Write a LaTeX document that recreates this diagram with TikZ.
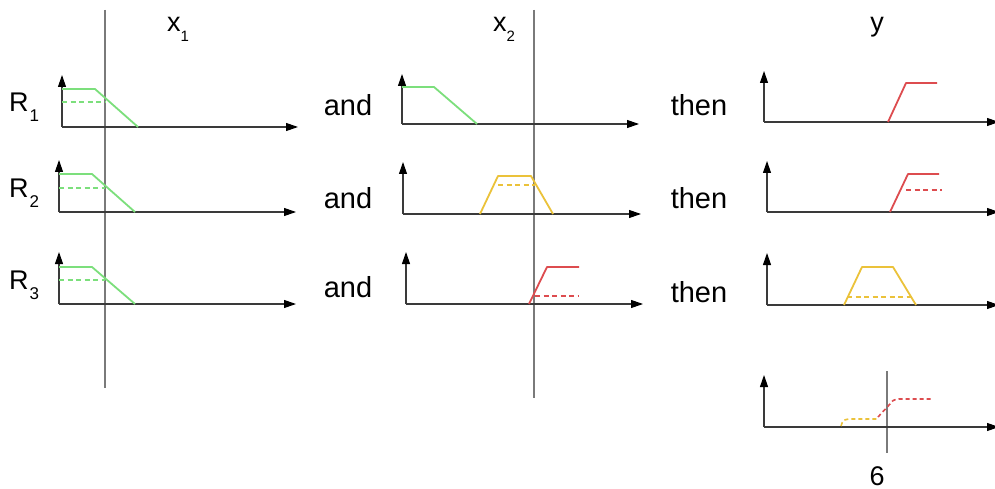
\documentclass[tikz,border=0pt]{standalone}
\usepackage{fontspec}
\setmainfont{Liberation Sans}
\usetikzlibrary{arrows.meta}
\definecolor{mfgreen}{HTML}{7CDF7C}
\definecolor{mfyellow}{HTML}{EBC23A}
\definecolor{mfred}{HTML}{DD4C4F}
\definecolor{axisgray}{HTML}{3A3A3A}
\definecolor{guidegray}{HTML}{7A7A7A}
\tikzset{
  axisline/.style={draw=axisgray, line width=1.1pt, -{Triangle[length=12pt,width=8pt,color=black]}},
  guideline/.style={draw=guidegray, line width=1.1pt},
  mfline/.style={line width=1.8pt, line join=round},
  mfdash/.style={line width=1.6pt, dash pattern=on 5pt off 3.5pt},
  bigword/.style={font=\fontsize{29}{31}\selectfont, inner sep=0pt},
  varlabel/.style={font=\fontsize{27}{29}\selectfont, inner sep=0pt},
}
\newcommand{\subx}[1]{\raisebox{-9.5pt}{\fontsize{15}{15}\selectfont #1}}
\newcommand{\subr}[1]{\hspace{1pt}\raisebox{-10pt}{\fontsize{17}{17}\selectfont #1}}
\begin{document}
\begin{tikzpicture}[x=1pt,y=-1pt]
\useasboundingbox[fill=white] (0,0) rectangle (995,489);

% vertical guide lines
\coordinate (g1t) at (105,10); \coordinate (g1b) at (105,388);
\coordinate (g2t) at (534,10); \coordinate (g2b) at (534,398);
\coordinate (g3t) at (887,371); \coordinate (g3b) at (887,453);
\draw[guideline] (g1t) -- (g1b);
\draw[guideline] (g2t) -- (g2b);
\draw[guideline] (g3t) -- (g3b);

% column labels
\node[varlabel, anchor=base west] (lx1) at (167,32) {x\subx{1}};
\node[varlabel, anchor=base west] (lx2) at (493,32) {x\subx{2}};
\node[varlabel, anchor=base] (ly) at (877,32) {y};
\node[font=\fontsize{27}{29}\selectfont, inner sep=0pt, anchor=base] (l6) at (877,485) {6};

% row labels
\node[varlabel, anchor=base west] (r1) at (9,112) {R\subr{1}};
\node[varlabel, anchor=base west] (r2) at (9,197) {R\subr{2}};
\node[varlabel, anchor=base west] (r3) at (9,289) {R\subr{3}};

\node[bigword, anchor=base] (and1) at (348,116) {and};
\node[bigword, anchor=base] (and2) at (348,208) {and};
\node[bigword, anchor=base] (and3) at (348,297) {and};
\node[bigword, anchor=base] (then1) at (699,116) {then};
\node[bigword, anchor=base] (then2) at (699,208) {then};
\node[bigword, anchor=base] (then3) at (699,302) {then};

% ---------- x1 column ----------
% R1
\coordinate (a1o) at (62,127);
\draw[axisline] (a1o) -- (62,75);
\draw[axisline] (a1o) -- (298,127);
\draw[mfline, mfgreen] (62,89) -- (95,89) -- (138,127);
\draw[mfdash, mfgreen] (62,102) -- (105,102);
% R2
\coordinate (a2o) at (59,212);
\draw[axisline] (a2o) -- (59,160);
\draw[axisline] (a2o) -- (296,212);
\draw[mfline, mfgreen] (59,174) -- (92,174) -- (135,212);
\draw[mfdash, mfgreen] (59,188) -- (105,188);
% R3
\coordinate (a3o) at (59,304);
\draw[axisline] (a3o) -- (59,252);
\draw[axisline] (a3o) -- (296,304);
\draw[mfline, mfgreen] (59,267) -- (92,267) -- (135,304);
\draw[mfdash, mfgreen] (59,280) -- (105,280);

% ---------- x2 column ----------
% R1
\coordinate (b1o) at (402,124);
\draw[axisline] (b1o) -- (402,74);
\draw[axisline] (b1o) -- (639,124);
\draw[mfline, mfgreen] (402,87) -- (434,87) -- (477,124);
% R2
\coordinate (b2o) at (403,214);
\draw[axisline] (b2o) -- (403,162);
\draw[axisline] (b2o) -- (641,214);
\draw[mfline, mfyellow] (480,214) -- (498,176) -- (531,176) -- (553,214);
\draw[mfdash, mfyellow] (498,185) -- (535,185);
% R3
\coordinate (b3o) at (406,304);
\draw[axisline] (b3o) -- (406,252);
\draw[axisline] (b3o) -- (643,304);
\draw[mfline, mfred] (529,304) -- (547,267) -- (579,267);
\draw[mfdash, mfred] (535,296) -- (579,296);

% ---------- y column ----------
% R1
\coordinate (c1o) at (764,122);
\draw[axisline] (c1o) -- (764,71);
\draw[axisline] (c1o) -- (999,122);
\draw[mfline, mfred] (888,122) -- (906,83) -- (937,83);
% R2
\coordinate (c2o) at (767,212);
\draw[axisline] (c2o) -- (767,161);
\draw[axisline] (c2o) -- (999,212);
\draw[mfline, mfred] (890,212) -- (908,174) -- (939,174);
\draw[mfdash, mfred] (906,190) -- (942,190);
% R3
\coordinate (c3o) at (767,305);
\draw[axisline] (c3o) -- (767,253);
\draw[axisline] (c3o) -- (999,305);
\draw[mfline, mfyellow] (844,305) -- (862,267) -- (893,267) -- (916,305);
\draw[mfdash, mfyellow] (847,297) -- (911,297);
% aggregate
\coordinate (c4o) at (764,427);
\draw[axisline] (c4o) -- (764,375);
\draw[axisline] (c4o) -- (999,427);
\draw[mfdash, mfyellow, dash pattern=on 4pt off 3pt] (841,426) .. controls (843,420) .. (849,419) -- (877,419);
\draw[mfdash, mfred, dash pattern=on 4pt off 3pt] (878,417) -- (890,404) .. controls (893,400) .. (899,399) -- (933,399);
\end{tikzpicture}
\end{document}
